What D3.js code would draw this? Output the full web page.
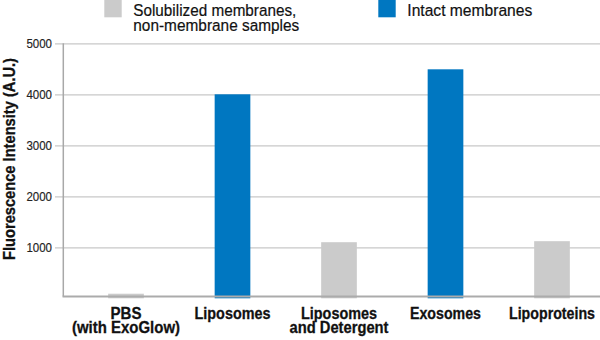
<!DOCTYPE html>
<html>
<head>
<meta charset="utf-8">
<script src="https://cdn.jsdelivr.net/npm/d3@7/dist/d3.min.js"></script>
<style>
  html, body { margin: 0; padding: 0; background: #fff; }
  svg { display: block; }
  text { font-family: "Liberation Sans", Arial, sans-serif; }
</style>
</head>
<body>
<svg id="chart" width="600" height="340"></svg>
<script>
// Fluorescence readings per sample
const categories = [
  ["PBS", "(with ExoGlow)"],
  ["Liposomes"],
  ["Liposomes", "and Detergent"],
  ["Exosomes"],
  ["Lipoproteins"]
];
const values = [90, 4000, 1100, 4490, 1120];
const groups = ["sol", "intact", "sol", "intact", "sol"];
const yTicks = [1000, 2000, 3000, 4000, 5000];
const legendItems = [
  { key: "sol", lines: ["Solubilized membranes,", "non-membrane samples"] },
  { key: "intact", lines: ["Intact membranes"] }
];
const colors = { sol: "#cbcbcb", intact: "#0077c1" };

// condensed set widths (px) for the label lines
const lineWidths = {
  "PBS": 31, "(with ExoGlow)": 108, "Liposomes": 76, "and Detergent": 99,
  "Exosomes": 71, "Lipoproteins": 86,
  "Solubilized membranes,": 163, "non-membrane samples": 166, "Intact membranes": 125,
  "Fluorescence Intensity (A.U.)": 202
};

const svg = d3.select("#chart");
const x0 = 63.3, x1 = 600, yTop = 43.3, yZero = 298.3, yBase = 296.5;

const x = d3.scaleBand()
  .domain(d3.range(categories.length))
  .range([72.75, 605.25])
  .paddingInner(0.665)
  .paddingOuter(0.3325);

const y = d3.scaleLinear().domain([0, 5000]).range([yZero, yTop]);

// text line squeezed to its condensed width
function fitText(sel, s) {
  sel.text(s);
  if (lineWidths[s]) sel.attr("textLength", lineWidths[s]).attr("lengthAdjust", "spacingAndGlyphs");
  return sel;
}

// gridlines and tick marks
const yAxis = d3.axisLeft(y).tickValues(yTicks).tickSize(x1 - 55).tickFormat("");
const gy = svg.append("g").attr("transform", `translate(${x1},0)`).call(yAxis);
gy.select(".domain").remove();
gy.selectAll(".tick line").attr("stroke", "#c8c8c8").attr("stroke-width", 1.2);

// tick labels
svg.append("g").selectAll("g").data(yTicks).join("g")
  .attr("transform", d => `translate(52,${y(d) + 4.6}) scale(0.9,1)`)
  .append("text")
  .attr("text-anchor", "end")
  .style("font-size", "12.8px")
  .attr("fill", "#222")
  .attr("stroke", "#222").attr("stroke-width", 0.15)
  .text(d => d);

// bars
svg.append("g").selectAll("rect").data(values).join("rect")
  .attr("x", (d, i) => x(i))
  .attr("width", x.bandwidth())
  .attr("y", d => y(d))
  .attr("height", d => y(0) - y(d))
  .attr("fill", (d, i) => colors[groups[i]]);

// axis lines
svg.append("line").attr("x1", x0).attr("x2", x0).attr("y1", yTop).attr("y2", yBase)
  .attr("stroke", "#a8a8a8").attr("stroke-width", 1.5);
svg.append("line").attr("x1", x0 - 0.75).attr("x2", x1).attr("y1", yBase).attr("y2", yBase)
  .attr("stroke", "#ababab").attr("stroke-width", 2);

// category labels
categories.forEach((lines, i) => {
  const cx = x(i) + x.bandwidth() / 2;
  lines.forEach((s, j) => {
    svg.append("text")
      .attr("x", cx)
      .attr("y", 319.3 + j * 13.5)
      .attr("text-anchor", "middle")
      .style("font-size", "16.8px")
      .style("font-weight", "bold")
      .attr("fill", "#111")
      .attr("stroke", "#111").attr("stroke-width", 0.3)
      .call(fitText, s);
  });
});

// y-axis title
svg.append("text")
  .attr("transform", "translate(14.5,159) rotate(-90)")
  .attr("text-anchor", "middle")
  .style("font-size", "16.4px")
  .style("font-weight", "bold")
  .attr("fill", "#111")
  .attr("stroke", "#111").attr("stroke-width", 0.3)
  .call(fitText, "Fluorescence Intensity (A.U.)");

// legend
const legendX = [104.3, 378.3];
legendItems.forEach((item, i) => {
  svg.append("rect").attr("x", legendX[i]).attr("y", 0).attr("width", 17.4).attr("height", 17.3)
    .attr("fill", colors[item.key]);
  item.lines.forEach((s, j) => {
    svg.append("text")
      .attr("x", legendX[i] + 29)
      .attr("y", 15.7 + j * 15.3)
      .style("font-size", "16.8px")
      .attr("fill", "#111")
      .attr("stroke", "#111").attr("stroke-width", 0.2)
      .call(fitText, s);
  });
});
</script>
</body>
</html>
